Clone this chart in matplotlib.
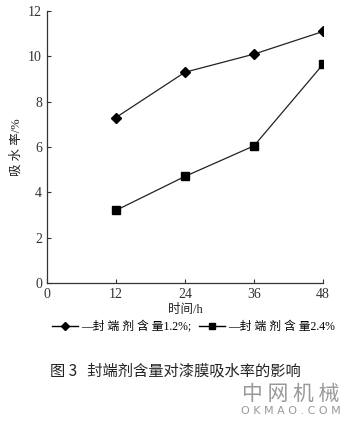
import matplotlib
matplotlib.use("Agg")
import matplotlib.pyplot as plt
from matplotlib.lines import Line2D

plt.rcParams['font.family'] = ['Liberation Serif', 'Noto Sans CJK SC']

hours = [12, 24, 36, 48]
rate_12 = [7.3, 9.3, 10.1, 11.1]
rate_24 = [3.2, 4.7, 6.05, 9.65]
labels = ["—封 端 剂 含 量1.2%;", "—封 端 剂 含 量2.4%"]

fig = plt.figure(figsize=(3.55, 4.26), dpi=100)
ax = fig.add_axes([0.132, 0.336, 0.778, 0.638])

ax.plot(hours, rate_12, color='#222', lw=0.9, marker='D', ms=5, mfc='black', mec='black')
ax.plot(hours, rate_24, color='#222', lw=0.9, marker='s', ms=6, mfc='black', mec='black')

ax.set_xlim(0, 48)
ax.set_ylim(0, 12)
ax.set_xticks([0, 12, 24, 36, 48])
ax.set_yticks([0, 2, 4, 6, 8, 10, 12])
ax.tick_params(direction='in', length=3, width=0.8, labelsize=10, colors='#333')
for s in ['top', 'right']:
    ax.spines[s].set_visible(False)
for s in ['left', 'bottom']:
    ax.spines[s].set_linewidth(0.9)
    ax.spines[s].set_color('#333')

ax.set_xlabel("时间/h", fontsize=9, labelpad=2, color='#222')
ax.set_ylabel("吸 水 率/%", fontsize=9, labelpad=4, color='#222')

handles = [Line2D([], [], color='black', lw=1, marker='D', ms=4.5),
           Line2D([], [], color='black', lw=1, marker='s', ms=5)]
fig.legend(handles, labels, ncol=2, frameon=False, loc='center',
           bbox_to_anchor=(0.545, 0.232), fontsize=8.5, handlelength=2.2,
           handletextpad=0.3, columnspacing=0.6, borderpad=0)

fig.text(0.14, 0.13, "图 3   封端剂含量对漆膜吸水率的影响", fontsize=11,
         family=['Noto Sans CJK SC'], color='#222', va='center')
fig.text(0.82, 0.075, "中 网 机 械", fontsize=15, color='#999', ha='center',
         va='center', family=['Noto Sans CJK SC'])
fig.text(0.82, 0.036, "O K M A O . C O M", fontsize=8, color='#999', ha='center',
         va='center', family=['DejaVu Sans'])

fig.savefig("out.png", dpi=100)
